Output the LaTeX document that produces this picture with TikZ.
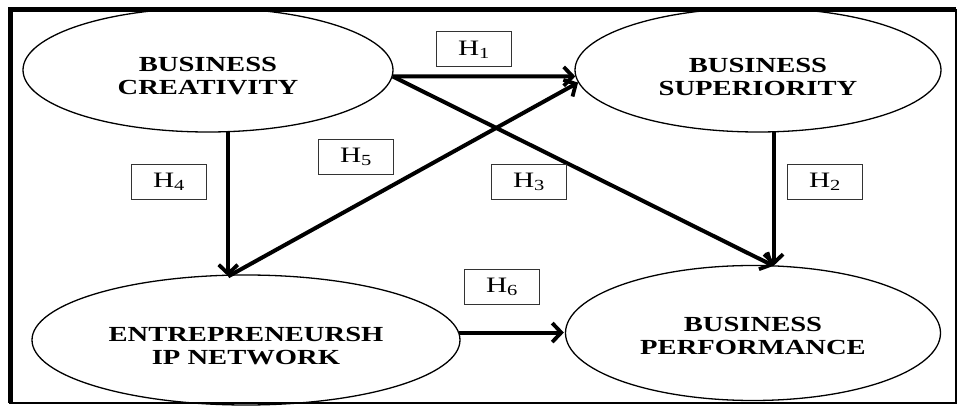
\documentclass[tikz,border=0pt]{standalone}
\usepackage{fontspec}
\usetikzlibrary{shapes.geometric,arrows.meta}
\newfontfamily\lblfont[FakeStretch=1.33]{Liberation Serif}
\begin{document}
\begin{tikzpicture}[x=1pt,y=-1pt,
  constr/.style={draw, ellipse, line width=1.3pt, inner sep=0pt},
  ctext/.style={font=\lblfont\bfseries\fontsize{21.5}{23}\selectfont, align=center, inner sep=0pt},
  hbox/.style={draw=black!80, line width=1pt, minimum width=75pt, minimum height=35pt, inner sep=0pt, font=\lblfont\fontsize{22}{24}\selectfont},
  path/.style={line width=4pt, -{Straight Barb[length=9pt,width=19pt,line width=3.8pt]}}
]
\useasboundingbox (0,0) rectangle (959,406);
% frame
\draw[line width=1.6pt] (10,10) rectangle (956,403);
\draw[line width=5pt] (10,403) -- (10,10) -- (956,10);

% constructs
\node[constr, minimum width=370pt, minimum height=124pt] (BC) at (208,70) {};
\node[constr, minimum width=366pt, minimum height=124pt] (BS) at (758,70) {};
\node[constr, minimum width=428pt, minimum height=130pt] (EN) at (246,340) {};
\node[constr, minimum width=375pt, minimum height=135pt] (BP) at (753,333) {};

\node[ctext] (BCt) at ([yshift=-6.5pt]BC.center) {BUSINESS\\CREATIVITY};
\node[ctext] (BSt) at ([yshift=-6.5pt]BS.center) {BUSINESS\\SUPERIORITY};
\node[ctext] (ENt) at ([yshift=-6pt]EN.center) {ENTREPRENEURSH\\IP NETWORK};
\node[ctext] (BPt) at ([yshift=-3pt]BP.center) {BUSINESS\\PERFORMANCE};

% anchor points
\coordinate (BCr) at (BC.-2.2);
\coordinate (BCb) at (BC.-72.1);
\coordinate (BSl) at (BS.182.2);
\coordinate (BSl2) at (BS.184.7);
\coordinate (BSb) at (BS.-76.4);
\coordinate (BPtop) at ([yshift=-1pt]BSb |- BP.north);
\coordinate (ENtop) at ([yshift=-2pt]BCb |- EN.north);
\coordinate (ENr) at (EN.2.7);
\coordinate (BPl) at ([xshift=-1pt]ENr -| BP.west);

% paths
\draw[path] (BCr) -- (BSl);
\draw[path] (BCr) -- (BPtop);
\draw[path] (BSb) -- (BPtop);
\draw[path] (BCb) -- (ENtop);
\draw[path] (ENtop) -- (BSl2);
\draw[path] (ENr) -- (BPl);

% hypothesis labels
\node[hbox] (H1) at (474,49.5) {H\textsubscript{1}};
\node[hbox] (H2) at (825,182) {H\textsubscript{2}};
\node[hbox] (H3) at (529,182) {H\textsubscript{3}};
\node[hbox] (H4) at (169,182) {H\textsubscript{4}};
\node[hbox] (H5) at (356,157) {H\textsubscript{5}};
\node[hbox] (H6) at (502,287) {H\textsubscript{6}};
\end{tikzpicture}
\end{document}
